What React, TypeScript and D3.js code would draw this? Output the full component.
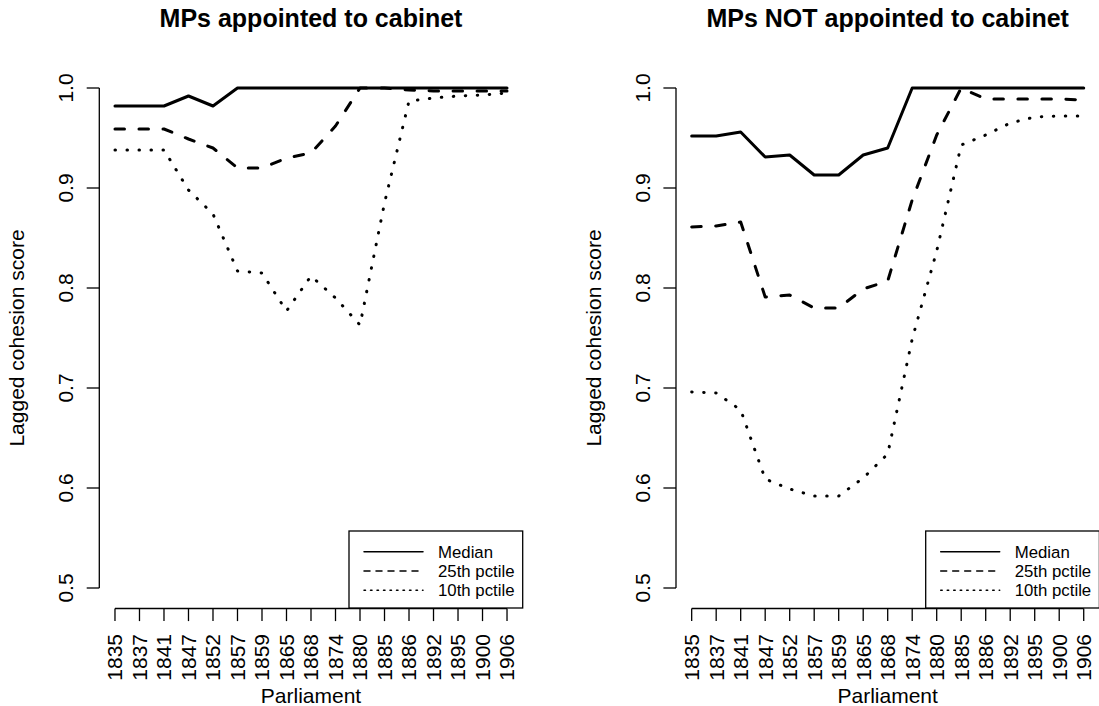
import React from 'react';
import * as d3 from 'd3';

// Parliament labels along the x axis
const parliaments = ['1835', '1837', '1841', '1847', '1852', '1857', '1859', '1865', '1868',
  '1874', '1880', '1885', '1886', '1892', '1895', '1900', '1906'];

// MPs appointed to cabinet
const cabinetMedian = [0.982, 0.982, 0.982, 0.992, 0.982, 1, 1, 1, 1, 1, 1, 1, 1, 1, 1, 1, 1];
const cabinetP25 = [0.959, 0.959, 0.959, 0.949, 0.940, 0.920, 0.920, 0.930, 0.935, 0.962, 1, 1,
  0.998, 0.997, 0.997, 0.997, 0.997];
const cabinetP10 = [0.938, 0.938, 0.938, 0.898, 0.874, 0.817, 0.815, 0.777, 0.812, 0.790, 0.763,
  0.885, 0.987, 0.990, 0.992, 0.993, 0.995];

// MPs NOT appointed to cabinet
const otherMedian = [0.952, 0.952, 0.956, 0.931, 0.933, 0.913, 0.913, 0.933, 0.940, 1, 1, 1, 1, 1, 1, 1, 1];
const otherP25 = [0.861, 0.862, 0.866, 0.791, 0.793, 0.780, 0.780, 0.799, 0.807, 0.888, 0.953, 1,
  0.989, 0.989, 0.989, 0.989, 0.988];
const otherP10 = [0.696, 0.695, 0.678, 0.609, 0.599, 0.592, 0.592, 0.610, 0.634, 0.749, 0.837,
  0.943, 0.953, 0.965, 0.971, 0.972, 0.972];

const yTicks = [0.5, 0.6, 0.7, 0.8, 0.9, 1.0];
const legendLabels = ['Median', '25th pctile', '10th pctile'];

const FONT = '"Liberation Sans", Arial, Helvetica, sans-serif';
const W = 1099;
const H = 706;

// line styles for median / 25th / 10th
const styles = [
  { dash: null, legendDash: null },
  { dash: '9.5 14.5', legendDash: '6 6' },
  { dash: '0.5 11.5', legendDash: '1.5 5' },
];

function Panel({ left, title, series }: { left: number; title: string; series: number[][] }) {
  const plotW = 423.4;
  const x = d3.scaleLinear().domain([-0.64, parliaments.length - 1 + 0.64]).range([left, left + plotW]);
  const y = d3.scaleLinear().domain([0.48, 1.02]).range([608, 68]);
  const line = d3.line<number>().x((_, i) => x(i)).y(d => y(d));
  const cx = left + plotW / 2;
  const right = left + plotW;
  const tick = 12.6;

  // legend box (bottomright)
  const boxW = 173.7;
  const boxL = right - boxW;
  const boxT = 531;
  const rows = [551.7, 571, 590.3];

  return (
    <g>
      <text x={cx} y={27} textAnchor="middle" fontWeight="bold" fontSize={25}>{title}</text>

      {/* y axis */}
      <line x1={left} x2={left} y1={y(0.5)} y2={y(1)} stroke="#000" strokeWidth={1.3} />
      {yTicks.map(t => (
        <g key={t}>
          <line x1={left - tick} x2={left} y1={y(t)} y2={y(t)} stroke="#000" strokeWidth={1.3} />
          <text transform={`translate(${left - 26},${y(t)}) rotate(-90)`} textAnchor="middle" fontSize={21}>
            {t.toFixed(1)}
          </text>
        </g>
      ))}
      <text transform={`translate(${left - 75},338) rotate(-90)`} textAnchor="middle" fontSize={21}>
        Lagged cohesion score
      </text>

      {/* x axis */}
      <line x1={x(0)} x2={x(parliaments.length - 1)} y1={608.5} y2={608.5} stroke="#000" strokeWidth={1.3} />
      {parliaments.map((p, i) => (
        <g key={p}>
          <line x1={x(i)} x2={x(i)} y1={608.5} y2={608.5 + tick} stroke="#000" strokeWidth={1.3} />
          <text transform={`translate(${x(i)},634) rotate(-90)`} textAnchor="end" dy="0.35em" fontSize={21}>
            {p}
          </text>
        </g>
      ))}
      <text x={cx} y={703} textAnchor="middle" fontSize={21}>Parliament</text>

      {/* series */}
      {series.map((s, k) => (
        <path key={k} d={line(s) || ''} fill="none" stroke="#000" strokeWidth={3}
          strokeLinecap="round" strokeLinejoin="round"
          strokeDasharray={styles[k].dash || undefined} />
      ))}

      {/* legend */}
      <rect x={boxL} y={boxT} width={boxW} height={608 - boxT} fill="#fff" stroke="#000" strokeWidth={1.3} />
      {legendLabels.map((lab, k) => (
        <g key={lab}>
          <line x1={boxL + 15} x2={boxL + 74} y1={rows[k]} y2={rows[k]} stroke="#000" strokeWidth={1.5}
            strokeLinecap="round" strokeDasharray={styles[k].legendDash || undefined} />
          <text x={boxL + 89} y={rows[k]} dy="0.35em" fontSize={16.8}>{lab}</text>
        </g>
      ))}
    </g>
  );
}

export default function App() {
  return (
    <svg width={W} height={H} style={{ position: 'absolute', left: 0, top: 0, background: '#fff' }}
      fontFamily={FONT}>
      <rect width={W} height={H} fill="#fff" />
      <Panel left={99.3} title="MPs appointed to cabinet" series={[cabinetMedian, cabinetP25, cabinetP10]} />
      <Panel left={676} title="MPs NOT appointed to cabinet" series={[otherMedian, otherP25, otherP10]} />
    </svg>
  );
}
